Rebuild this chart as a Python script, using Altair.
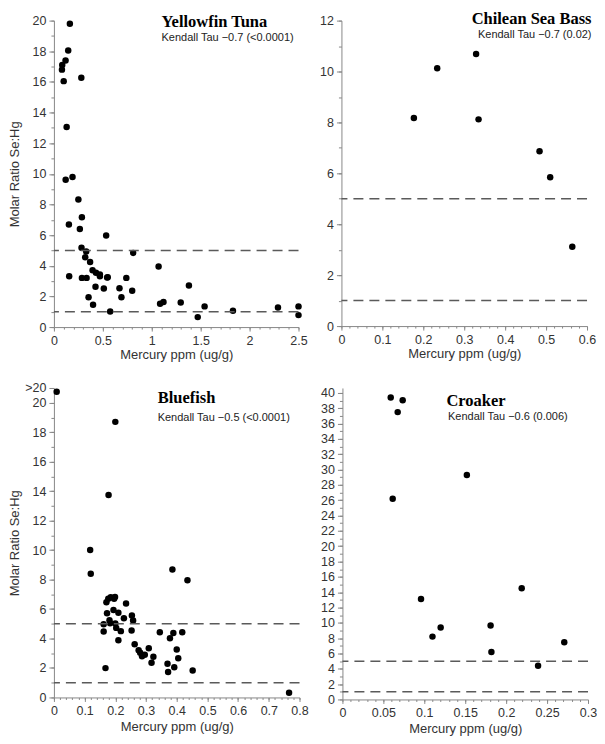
import altair as alt
import pandas as pd

# ---------------- data ----------------
yf_hg = [0.163, 0.146, 0.119, 0.085, 0.082, 0.10, 0.28, 0.13, 0.12, 0.19, 0.25, 0.153, 0.286, 0.265,
         0.534, 0.282, 0.33, 0.32, 0.81, 0.37, 0.395, 0.43, 0.47, 0.47, 0.156, 0.286, 0.334, 0.55,
         0.544, 0.74, 1.07, 1.38, 0.425, 0.51, 0.67, 0.80, 0.354, 0.69, 0.40, 1.085, 1.12, 1.296,
         1.54, 1.47, 1.83, 0.575, 2.29, 2.5, 2.5]
yf_ratio = [19.8, 18.05, 17.4, 17.1, 16.8, 16.05, 16.27, 13.05, 9.62, 9.8, 8.32, 6.7, 7.17, 6.4,
            5.97, 5.17, 4.93, 4.56, 4.84, 4.25, 3.71, 3.54, 3.43, 3.32, 3.32, 3.21, 3.21, 3.25,
            3.23, 3.21, 3.95, 2.72, 2.63, 2.52, 2.54, 2.37, 1.95, 1.95, 1.45, 1.52, 1.63, 1.6,
            1.35, 0.65, 1.06, 1.02, 1.28, 1.35, 0.78]

csb_hg = [0.177, 0.234, 0.329, 0.335, 0.484, 0.51, 0.564]
csb_ratio = [8.17, 10.13, 10.69, 8.12, 6.87, 5.85, 3.12]

bf_hg = [0.009, 0.20, 0.178, 0.118, 0.12, 0.386, 0.435, 0.171, 0.177, 0.185, 0.196, 0.199,
         0.173, 0.194, 0.21, 0.235, 0.162, 0.162, 0.181, 0.183, 0.20, 0.203, 0.218, 0.228,
         0.21, 0.254, 0.258, 0.253, 0.263, 0.276, 0.281, 0.287, 0.296, 0.309, 0.318, 0.324,
         0.345, 0.37, 0.372, 0.378, 0.389, 0.392, 0.40, 0.405, 0.418, 0.452, 0.168, 0.766]
bf_ratio = [20.75, 18.7, 13.74, 10.0, 8.4, 8.68, 7.95, 6.46, 6.69, 6.8, 6.69, 6.82,
            5.72, 5.94, 5.74, 6.37, 4.97, 4.47, 5.24, 5.04, 5.02, 4.72, 4.5, 5.38,
            3.88, 5.56, 5.22, 4.54, 3.61, 3.21, 3.03, 2.8, 2.89, 3.34, 2.35, 2.76,
            4.43, 2.28, 1.72, 4.02, 4.38, 2.05, 3.25, 2.66, 4.43, 1.83, 1.99, 0.32]

cr_hg = [0.059, 0.0736, 0.0675, 0.0614, 0.152, 0.096, 0.11, 0.12, 0.181, 0.182, 0.219, 0.239, 0.271]
cr_ratio = [39.4, 39.05, 37.5, 26.2, 29.3, 13.1, 8.2, 9.4, 9.64, 6.2, 14.5, 4.39, 7.47]

ref_lines = [1, 5]

titles = ["Yellowfin Tuna", "Chilean Sea Bass", "Bluefish", "Croaker"]
kendall = ["Kendall Tau \u22120.7 (<0.0001)", "Kendall Tau \u22120.7 (0.02)",
           "Kendall Tau \u22120.5 (<0.0001)", "Kendall Tau \u22120.6 (0.006)"]

X_TITLE = "Mercury ppm (ug/g)"
Y_TITLE = "Molar Ratio Se:Hg"


def ticks(lo, hi, step):
    n = int(round((hi - lo) / step))
    return [round(lo + i * step, 6) for i in range(n + 1)]


def panel(hg, ratio, x_dom, x_major, x_minor, y_dom, y_top, y_major, y_minor, title, ktext,
          tpos, kpos, align, show_ytitle, w, h, extra_y=None, xtitle_pad=2):
    df = pd.DataFrame({"hg": hg, "ratio": ratio})
    xs = alt.Scale(domain=x_dom, nice=False, zero=False)
    ys = alt.Scale(domain=y_dom, nice=False, zero=False)

    ymaj = ticks(0, y_top, y_major)
    ylabexpr = "datum.label"
    if extra_y is not None:
        ymaj = ymaj + [extra_y[0]]
        ylabexpr = f"datum.value > {extra_y[0] - 0.5} ? '{extra_y[1]}' : datum.label"

    xaxis = alt.Axis(values=ticks(x_dom[0], x_dom[1], x_major), title=X_TITLE, format="~g",
                     tickSize=4, orient="bottom", titlePadding=xtitle_pad)
    yargs = dict(values=ymaj, format="~g", labelExpr=ylabexpr, tickSize=5, orient="left")
    if show_ytitle:
        yaxis = alt.Axis(title=Y_TITLE, titleX=-39, titleY=h / 2, titleBaseline="middle",
                         titleAngle=270, titleAlign="center", **yargs)
    else:
        yaxis = alt.Axis(title=None, **yargs)
    xminor = alt.Axis(values=ticks(x_dom[0], x_dom[1], x_minor), labels=False, domain=False,
                      tickSize=2, title=None, orient="bottom")
    yminor = alt.Axis(values=ticks(0, y_top, y_minor), labels=False, domain=False,
                      tickSize=3, title=None, orient="left")

    pts = alt.Chart(df).mark_circle(size=42, color="black", opacity=1).encode(
        x=alt.X("hg:Q", scale=xs, axis=xaxis),
        y=alt.Y("ratio:Q", scale=ys, axis=yaxis),
    )
    minor = alt.Chart(df).mark_circle(size=0, opacity=0).encode(
        x=alt.X("hg:Q", scale=xs, axis=xminor),
        y=alt.Y("ratio:Q", scale=ys, axis=yminor),
    )
    rules = alt.Chart(pd.DataFrame({"r": ref_lines})).mark_rule(
        color="#5a5a5a", strokeDash=[10, 6], strokeWidth=1.5
    ).encode(y=alt.Y("r:Q", scale=ys, axis=None))
    tdf = pd.DataFrame({"x": [tpos[0]], "y": [tpos[1]], "t": [title]})
    kdf = pd.DataFrame({"x": [kpos[0]], "y": [kpos[1]], "t": [ktext]})
    ttl = alt.Chart(tdf).mark_text(font="Liberation Serif", fontWeight="bold", fontSize=16.5,
                                   align=align, baseline="middle", color="black").encode(
        x=alt.X("x:Q", scale=xs, axis=None), y=alt.Y("y:Q", scale=ys, axis=None), text="t:N")
    kt = alt.Chart(kdf).mark_text(font="Liberation Sans", fontSize=11,
                                  align=align, baseline="middle", color="#222222").encode(
        x=alt.X("x:Q", scale=xs, axis=None), y=alt.Y("y:Q", scale=ys, axis=None), text="t:N")
    return alt.layer(pts, minor, rules, ttl, kt).resolve_axis(
        x="independent", y="independent").properties(width=w, height=h)


p1 = panel(yf_hg, yf_ratio, [0, 2.5], 0.5, 0.1, [0, 20], 20, 2, 1, titles[0], kendall[0],
           (1.10, 19.9), (1.10, 18.87), "left", True, 245, 307)
p2 = panel(csb_hg, csb_ratio, [0, 0.6], 0.1, 0.02, [0, 12], 12, 2, 1, titles[1], kendall[1],
           (0.611, 12.05), (0.611, 11.44), "right", False, 246, 306)
p3 = panel(bf_hg, bf_ratio, [0, 0.8], 0.1, 0.02, [0, 21], 20, 2, 1, titles[2], kendall[2],
           (0.338, 20.34), (0.338, 18.98), "left", True, 246, 310, extra_y=(21, ">20"),
           xtitle_pad=4)
p4 = panel(cr_hg, cr_ratio, [0, 0.3], 0.05, 0.01, [0, 40.65], 40, 2, 1, titles[3], kendall[3],
           (0.127, 38.96), (0.129, 36.87), "left", False, 246, 312, xtitle_pad=4)

chart = alt.vconcat(
    alt.hconcat(p1, p2, spacing=12),
    alt.hconcat(p3, p4, spacing=12),
    spacing=20,
).properties(
    padding={"left": 1, "top": 2, "right": 0, "bottom": 0}, background="white"
).configure_view(
    strokeWidth=0
).configure_axis(
    grid=False,
    labelFont="Liberation Sans", labelFontSize=12.5, labelColor="#333333",
    titleFont="Liberation Sans", titleFontSize=13, titleFontWeight="normal", titleColor="#333333",
    domainColor="#888888", tickColor="#888888", labelPadding=3,
    labelFlush=False, labelOverlap=False,
)

chart.save("out.html", embed_options={"renderer": "svg", "actions": False})
